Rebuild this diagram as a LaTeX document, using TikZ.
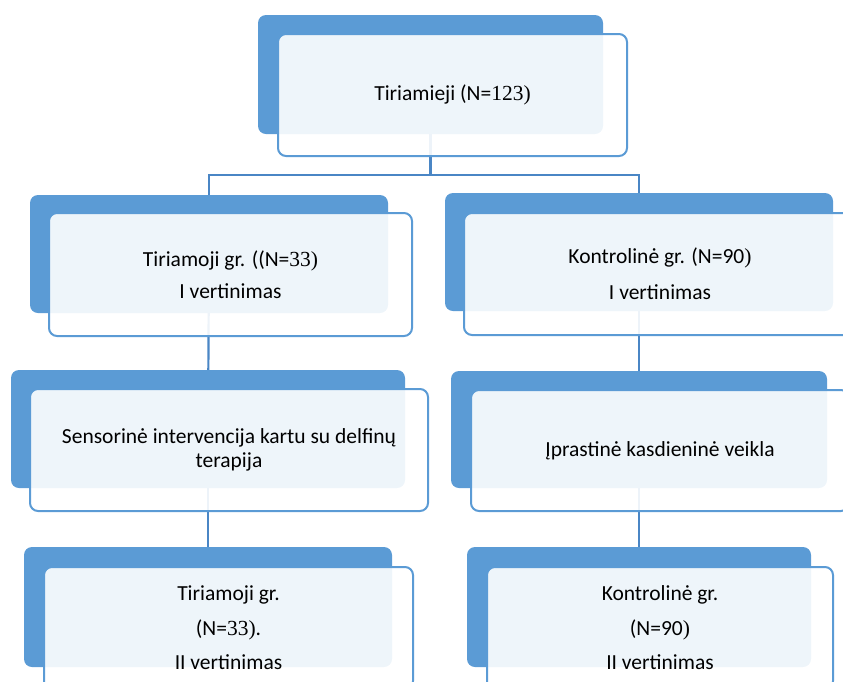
\documentclass[tikz,border=0pt]{standalone}
\usepackage{fontspec}
\setmainfont{Carlito}
\newfontfamily\dg{Liberation Serif}
\usetikzlibrary{backgrounds}
\definecolor{bluefill}{HTML}{5B9BD5}
\definecolor{bordercol}{HTML}{5B9BD5}
\definecolor{linecol}{HTML}{4A86C5}
\tikzset{
  backbox/.style={fill=bluefill, draw=none, rounded corners=8pt, inner sep=0pt},
  frontbox/.style={fill=white, fill opacity=0.9, text opacity=1, draw=bordercol,
    line width=2pt, rounded corners=8pt, inner sep=0pt, align=center,
    font=\fontsize{21.5}{24}\selectfont},
  conn/.style={draw=linecol, line width=2.2pt}
}
\begin{document}
\begin{tikzpicture}[x=1pt,y=-1pt]
\useasboundingbox (0,0) rectangle (843,681);
\clip (0,0) rectangle (843,681);
% back boxes
\node[backbox, minimum width=345pt, minimum height=119pt] (b1) at (430.5,74.5) {};
\node[backbox, minimum width=358pt, minimum height=118pt] (b2) at (209,254) {};
\node[backbox, minimum width=394pt, minimum height=118pt] (b3) at (208,429) {};
\node[backbox, minimum width=368pt, minimum height=120pt] (b4) at (208,607) {};
\node[backbox, minimum width=388pt, minimum height=118pt] (c2) at (639,252) {};
\node[backbox, minimum width=376pt, minimum height=117pt] (c3) at (639,429.5) {};
\node[backbox, minimum width=344pt, minimum height=120pt] (c4) at (639,607) {};
% front boxes
\node[frontbox, minimum width=349pt, minimum height=122pt] (f1) at (452.5,95)
  {Tiriamieji (N={\dg 123)}};
\node[frontbox, minimum width=363pt, minimum height=123pt] (f2) at (230.5,274.5)
  {Tiriamoji gr. ((N={\dg 33)}\\[8pt] I vertinimas};
\node[frontbox, minimum width=398pt, minimum height=122pt] (f3) at (229,450)
  {Sensorinė intervencija kartu su delfinų\\ terapija};
\node[frontbox, minimum width=369pt, minimum height=122pt] (f4) at (228.5,628)
  {Tiriamoji gr.\\[10.5pt] (N={\dg 33)}.\\[10.5pt] II vertinimas};
\node[frontbox, minimum width=392pt, minimum height=122pt] (g2) at (660,274)
  {Kontrolinė gr. (N=90{\dg )}\\[12pt] I vertinimas};
\node[frontbox, minimum width=378pt, minimum height=121pt] (g3) at (660,450.5)
  {Įprastinė kasdieninė veikla};
\node[frontbox, minimum width=346pt, minimum height=122pt] (g4) at (660,628)
  {Kontrolinė gr.\\[10.5pt] (N=90{\dg )}\\[10.5pt] II vertinimas};
% connectors
\begin{scope}[on background layer]
\coordinate (j) at (430.5,175);
\draw[conn] (b1.center) -- (j) -| (b2.center);
\draw[conn] (j) -| (c2.center);
\draw[conn] (b2.center) -- (b3.center);
\draw[conn] (b3.center) -- (b4.center);
\draw[conn] (c2.center) -- (c3.center);
\draw[conn] (c3.center) -- (c4.center);
\end{scope}
\end{tikzpicture}
\end{document}
